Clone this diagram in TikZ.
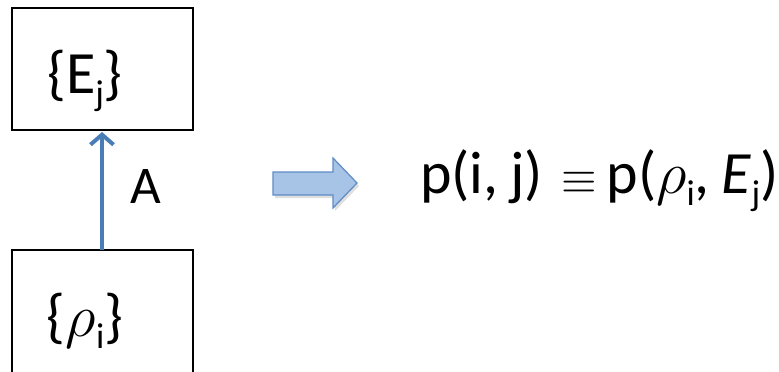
\RequirePackage{fix-cm}
\documentclass[tikz,border=0pt]{standalone}
\usepackage{fontspec}
\usepackage{graphicx}
\setmainfont{Carlito}
\usetikzlibrary{arrows.meta}
\definecolor{arrowblue}{HTML}{4A7DB5}
\definecolor{blockfill}{HTML}{A7C3E6}
\definecolor{blockedge}{HTML}{5E8CC6}
\newcommand\mysub[1]{\raisebox{-0.2em}{\scalebox{0.6}{#1}}}
\DeclareMathSizes{60}{60}{36}{30}
\tikzset{
  boxline/.style={draw=black, line width=1.2pt},
  bigtext/.style={font=\fontsize{60}{64}\selectfont, inner sep=0pt},
  maparrow/.style={draw=arrowblue, line width=4pt, -{Straight Barb[length=10pt, width=23pt, line width=4pt]}}
}
\begin{document}
\begin{tikzpicture}[x=1pt, y=-1pt]
\useasboundingbox (0,0) rectangle (779,372);
\clip (0,0) rectangle (779,372);
% boxes
\draw[boxline] (12,8) rectangle (193,130);
\draw[boxline] (12,250) rectangle (193,400);
\coordinate (topb) at (102,132);
\coordinate (botb) at (102,250);
\node[bigtext, anchor=base] (E) at (85,93) {\{E\mysub{j}\}};
\node[bigtext, anchor=base] (rho) at (85,336) {\{$\rho$\mysub{i}\}};
\draw[maparrow] (botb) -- (topb);
\node[font=\fontsize{53}{56}\selectfont, inner sep=0pt, anchor=base west] (A) at (130,203) {A};
% block arrow
\fill[black!25, opacity=0.5] (275,175) -- (335,175) -- (335,161) -- (359,186) -- (335,211) -- (335,198) -- (275,198) -- cycle;
\filldraw[fill=blockfill, draw=blockedge, line width=1.2pt] (273,172) -- (333,172) -- (333,158) -- (357,183) -- (333,208) -- (333,195) -- (273,195) -- cycle;
% formula
\node[bigtext, anchor=base west] (F) at (420,193) {p(i,\hspace{0.2em}j)\hspace{18pt}\scalebox{0.76}{$\equiv$}\hspace{10pt}p($\rho$\mysub{i},\hspace{0.2em}\textit{E}\mysub{j})};
\end{tikzpicture}
\end{document}
